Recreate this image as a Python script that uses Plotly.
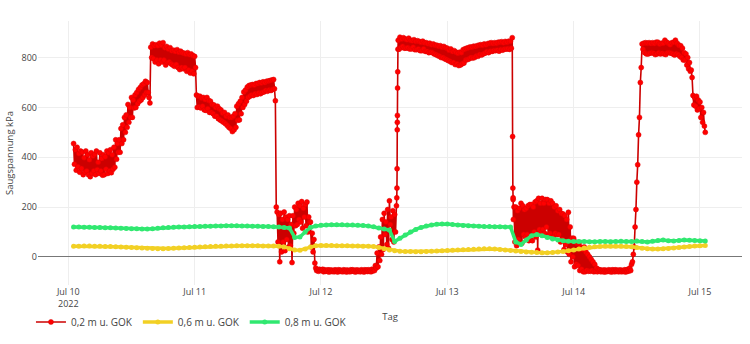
import pandas as pd
import plotly.graph_objects as go

# ---- data ----
# 0,2 m: readings every 10 minutes from 2022-07-10 01:00.
# red_upper = readings at :00/:20/:40, red_lower = readings at :10/:30/:50 (3 per hour row)
red_start_hour = 1.0
red_step_hours = 1.0 / 6.0
red_upper = [
    455, 430, 440,  415, 425, 420,  398, 425, 410,  390, 418, 405,      # h1-4
    412, 425, 380,  418, 395, 410,  402, 425, 418,  430, 410, 440,      # h5-8
    470, 455, 470,  515, 530, 560,  570, 612, 600,  640, 630, 650,      # h9-12
    660, 672, 680,  690, 695, 705,  700, 640, 842,  855, 848, 852,      # h13-16
    848, 858, 850,  860, 840, 845,  835, 840, 828,  830, 825, 832,      # h17-20
    822, 826, 820,  818, 815, 820,  812, 815, 808,  805, 650, 645,      # h21-24
    645, 638, 640,  632, 640, 628,  625, 612, 610,  600, 605, 595,      # h25-28
    590, 578, 580,  565, 570, 560,  560, 565, 575,  605, 615, 625,      # h29-32
    640, 662, 670,  682, 688, 690,  692, 690, 696,  696, 700, 698,      # h33-36
    703, 700, 705,  706, 708, 710,  712, 627, 180,  170, 175, 150,      # h37-40
    180, 160, 150,  165, 130, 165,  200, 190, 215,  205, 222, 195,      # h41-44
    210, 220, 160,  140, 95, 70,    -45, -52, -50,  -52, -50, -52,      # h45-48
    -54, -52, -53,  -53, -55, -52,  -54, -52, -53,  -55, -52, -54,      # h49-52
    -53, -55, -52,  -52, -54, -53,  -53, -55, -52,  -54, -52, -53,      # h53-56
    -52, -54, -50,  -50, -35, 15,   40, 80, 150,    175, 140, 190,      # h57-60
    225, 160, 185,  170, 205, 870,  882, 875, 880,  875, 872, 878,      # h61-64
    870, 868, 872,  866, 868, 865,  862, 866, 860,  860, 856, 858,      # h65-68
    852, 855, 850,  850, 846, 848,  842, 845, 840,  838, 830, 835,      # h69-72
    825, 828, 822,  818, 822, 820,  832, 835, 838,  840, 843, 842,      # h73-76
    846, 845, 848,  850, 852, 850,  855, 852, 856,  858, 860, 857,      # h77-80
    860, 858, 862,  862, 864, 860,  865, 862, 866,  866, 880, 200,      # h81-84
    200, 185, 195,  215, 205, 190,  195, 205, 210,  210, 200, 220,      # h85-88
    225, 235, 215,  235, 215, 230,  230, 215, 225,  215, 200, 205,      # h89-92
    185, 190, 175,  172, 165, 150,  179, 120, 75,   75, 60, 55,         # h93-96
    55, 40, 30,     40, 20, 10,     0, -10, -20,    -30, -45, -50,      # h97-100
    -52, -54, -53,  -53, -55, -52,  -54, -52, -53,  -52, -54, -53,      # h101-104
    -53, -55, -52,  -52, -50, -45,  -30, 10, 120,   300, 490, 700,      # h105-108
    855, 858, 860,  858, 860, 857,  860, 857, 862,  862, 855, 858,      # h109-112
    858, 870, 862,  858, 852, 860,  862, 870, 858,  850, 848, 838,      # h113-116
    820, 815, 800,  780, 750, 648,  640, 645, 630,  622, 600, 580,      # h117-120
    500,                                                                # h121
]
red_lower = [
    372, 348, 362,  340, 355, 330,  340, 345, 330,  322, 335, 345,      # h1-4
    330, 350, 335,  345, 328, 330,  352, 335, 345,  338, 352, 360,      # h5-8
    392, 420, 420,  455, 470, 500,  520, 540, 560,  560, 598, 600,      # h9-12
    615, 625, 630,  640, 650, 660,  660, 618, 800,  795, 782, 790,      # h13-16
    775, 790, 782,  790, 770, 780,  782, 775, 770,  765, 772, 760,      # h17-20
    752, 760, 755,  760, 745, 750,  738, 745, 735,  760, 600, 602,      # h21-24
    598, 605, 590,  588, 595, 580,  580, 575, 565,  565, 555, 550,      # h25-28
    545, 540, 535,  528, 520, 515,  503, 510, 520,  548, 550, 575,      # h29-32
    600, 612, 625,  640, 645, 650,  648, 655, 652,  658, 655, 660,      # h33-36
    662, 668, 665,  670, 668, 672,  675, 200, 60,   -20, 20, 60,        # h37-40
    25, 70, 40,     45, -23, 95,    125, 130, 150,  140, 115, 160,      # h41-44
    125, 100, 140,  40, 20, -25,    -55, -58, -55,  -55, -60, -58,      # h45-48
    -58, -61, -59,  -59, -60, -58,  -61, -58, -59,  -60, -58, -61,      # h49-52
    -59, -60, -58,  -58, -61, -59,  -59, -60, -58,  -61, -58, -59,      # h53-56
    -58, -60, -57,  -55, -45, -40,  -15, 10, 30,    90, 50, 35,         # h57-60
    130, 70, 60,    100, 540, 834,  840, 845, 838,  838, 840, 835,      # h61-64
    835, 842, 832,  832, 835, 828,  828, 835, 825,  825, 820, 822,      # h65-68
    820, 815, 812,  808, 805, 800,  800, 795, 792,  788, 785, 780,      # h69-72
    780, 772, 775,  768, 770, 775,  778, 790, 792,  795, 800, 798,      # h73-76
    800, 806, 805,  812, 810, 815,  818, 824, 820,  826, 825, 828,      # h77-80
    828, 830, 826,  832, 830, 834,  834, 836, 833,  838, 230, 60,       # h81-84
    45, 70, 55,     55, 90, 80,     90, 65, 80,     65, 100, 80,        # h85-88
    27, 110, 100,   110, 95, 120,   85, 95, 80,     80, 95, 90,         # h89-92
    90, 60, 70,     30, 50, 20,     10, -20, 0,     -40, -30, -35,      # h93-96
    -55, -50, -60,  -60, -55, -58,  -58, -55, -60,  -58, -60, -55,      # h97-100
    -60, -59, -61,  -60, -58, -59,  -61, -59, -60,  -58, -60, -59,      # h101-104
    -60, -58, -61,  -59, -57, -55,  -20, 40, 190,   370, 560, 760,      # h105-108
    834, 820, 815,  815, 818, 820,  818, 812, 815,  820, 815, 818,      # h109-112
    815, 812, 820,  820, 818, 815,  810, 816, 812,  805, 800, 790,      # h113-116
    790, 770, 755,  745, 720, 610,  605, 590, 595,  560, 540, 525,      # h117-120
]
# extra readings captured during the two fastest jumps (hours after Jul 10 00:00)
red_jump_hours = [62.40, 62.43, 62.46, 62.49, 62.52, 62.55, 62.58, 62.62,
                  84.40, 84.45, 84.50, 84.55]
red_jump_values = [237, 276, 354, 510, 568, 678, 743, 834,
                   483, 276, 237, 150]

# 0,6 m and 0,8 m: hourly readings from 2022-07-10 01:00
line_hours = list(range(1, 122))
green_values = [
    120, 120, 119, 119, 118, 118, 117, 117, 116, 115, 114, 113, 113, 112,
    112, 113, 115, 117, 118, 119, 120, 120,
    121, 122, 122, 123, 123, 124, 124, 125, 125, 125, 124, 124, 123, 123, 122, 122, 121,
    120, 118, 116,
    78, 80, 100, 118, 124,
    127, 128, 129, 129, 129, 128, 128, 127, 126,
    124, 121, 116, 112, 108,
    62,
    75, 88, 100, 110, 118, 124, 128, 131, 132, 132, 130, 128, 126,
    125, 124, 123, 122, 122, 121, 121, 120, 120,
    60, 50, 68, 85, 90, 85, 78, 72, 68, 65, 63,
    62, 62, 62, 61, 61, 62, 62, 61, 62, 63, 62, 62, 64, 62, 60, 63, 66, 68, 65, 64, 66, 68, 67, 66, 65, 64,
]
yellow_values = [
    43, 43, 44, 44, 43, 43, 42, 42, 41, 40,
    39, 38, 37, 36, 35, 34, 33, 33, 34, 35,
    36, 37, 38, 39, 40, 41, 42, 43, 43, 44,
    44, 45, 45, 45, 45, 45, 44, 44, 44, 43,
    40, 33, 28, 27, 32, 40, 45,
    46, 46, 46, 45, 45, 45, 44, 44, 43, 43, 42,
    38, 33, 28, 25,
    23, 22, 22, 21, 21, 22, 23, 24, 25, 26,
    27, 28, 29, 30, 31, 32, 33, 33, 32, 30, 28, 26,
    24, 22, 20, 18, 17, 16, 16, 17, 19, 22, 25,
    28, 32, 36, 39, 41, 42, 43, 43, 43, 43, 42, 41,
    38, 35, 33, 32, 32, 33, 34, 36, 38, 40, 42, 44, 45, 46,
]

series_names = ["0,2 m u. GOK", "0,6 m u. GOK", "0,8 m u. GOK"]
y_ticks = [0, 200, 400, 600, 800]

base = pd.Timestamp("2022-07-10")

# interleave the :00/:20/:40 and :10/:30/:50 readings, then add the jump readings
red_h, red_v = [], []
for i, v in enumerate(red_upper):
    red_h.append(red_start_hour + 2 * i * red_step_hours)
    red_v.append(v)
for i, v in enumerate(red_lower):
    red_h.append(red_start_hour + (2 * i + 1) * red_step_hours)
    red_v.append(v)
pairs = sorted(zip(red_h + red_jump_hours, red_v + red_jump_values))
red_x = [base + pd.Timedelta(hours=h) for h, _ in pairs]
red_y = [v for _, v in pairs]
line_x = [base + pd.Timedelta(hours=h) for h in line_hours]

fig = go.Figure()
fig.add_trace(go.Scatter(
    x=red_x, y=red_y, name=series_names[0], mode="lines+markers",
    line=dict(color="#cc0000", width=1.6, simplify=False),
    marker=dict(color="#ff0000", size=5, line=dict(color="#dd0000", width=0.5)),
))
fig.add_trace(go.Scatter(
    x=line_x, y=yellow_values, name=series_names[1], mode="lines+markers",
    line=dict(color="#f2d024", width=3.5),
    marker=dict(color="#f2d024", size=5),
))
fig.add_trace(go.Scatter(
    x=line_x, y=green_values, name=series_names[2], mode="lines+markers",
    line=dict(color="#30e870", width=3.5),
    marker=dict(color="#30e870", size=5),
))

x0 = base + pd.Timedelta(hours=-5.76)
x1 = base + pd.Timedelta(hours=127.98)

fig.update_layout(
    width=750, height=344,
    template="plotly_white",
    margin=dict(l=38, r=8, t=21, b=51),
    font=dict(family="Open Sans, Noto Sans, sans-serif", size=9, color="#444"),
    showlegend=True,
    legend=dict(orientation="h", x=-0.01, xanchor="left", y=-0.085, yanchor="top",
                font=dict(size=10, color="#444"), itemwidth=30),
    xaxis=dict(title=dict(text="Tag", font=dict(size=9.5), standoff=4),
               range=[x0, x1], dtick=86400000, tick0="2022-07-10",
               showgrid=True, gridcolor="#eeeeee", zeroline=False,
               tickfont=dict(size=9)),
    yaxis=dict(title=dict(text="Saugspannung kPa", font=dict(size=9.5), standoff=6),
               range=[-113, 947], tickvals=y_ticks,
               showgrid=True, gridcolor="#eeeeee",
               zeroline=True, zerolinecolor="#777777", zerolinewidth=1,
               tickfont=dict(size=9)),
)

fig.write_html("out.html")
